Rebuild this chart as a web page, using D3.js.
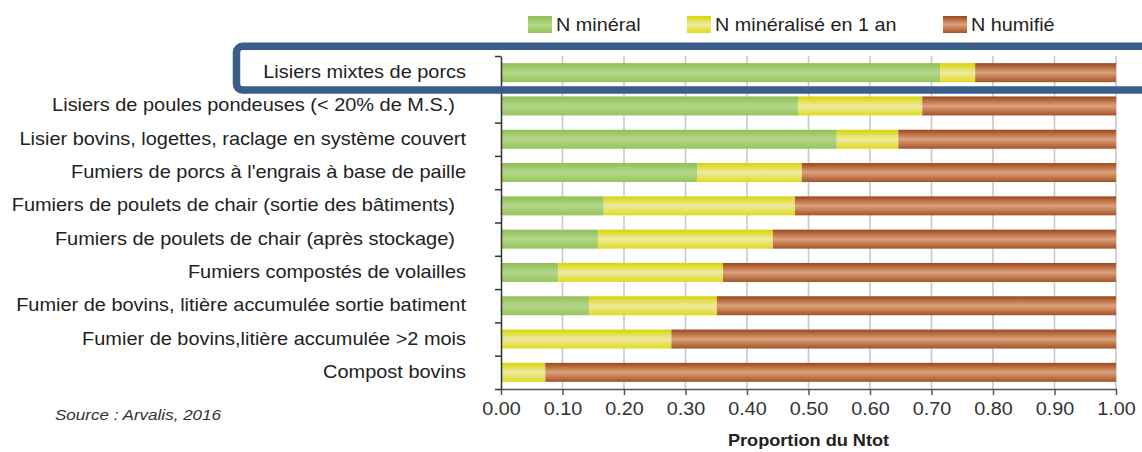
<!DOCTYPE html>
<html>
<head>
<meta charset="utf-8">
<script src="https://cdn.jsdelivr.net/npm/d3@7"></script>
<style>
  body { margin: 0; background: #fff; }
  svg { display: block; font-family: "Liberation Sans", Arial, sans-serif; }
  text { white-space: pre; }
</style>
</head>
<body>
<script>
const categories = [
    "Lisiers mixtes de porcs",
    "Lisiers de poules pondeuses (< 20% de M.S.)  ",
    "Lisier bovins, logettes, raclage en système couvert",
    "Fumiers de porcs à l'engrais à base de paille",
    "Fumiers de poulets de chair (sortie des bâtiments)  ",
    "Fumiers de poulets de chair (après stockage)  ",
    "Fumiers compostés de volailles",
    "Fumier de bovins, litière accumulée sortie batiment",
    "Fumier de bovins,litière accumulée >2 mois",
    "Compost bovins"
];
const nMineral = [0.714, 0.483, 0.546, 0.319, 0.167, 0.158, 0.093, 0.143, 0, 0];
const nMineralise = [0.057, 0.202, 0.100, 0.170, 0.311, 0.284, 0.268, 0.208, 0.277, 0.072];
const nHumifie = [0.229, 0.315, 0.354, 0.511, 0.522, 0.558, 0.639, 0.649, 0.723, 0.928];
const seriesNames = ["N minéral", "N minéralisé en 1 an", "N humifié"];
const xTicks = [0, 0.1, 0.2, 0.3, 0.4, 0.5, 0.6, 0.7, 0.8, 0.9, 1.0];

const W = 1142, H = 452;
const sx = 1.1; // the source picture is stretched a bit horizontally
const sxLabels = 1.14;

const keys = ["min", "mina", "hum"];
const table = categories.map((c, i) => ({
    cat: c, min: nMineral[i], mina: nMineralise[i], hum: nHumifie[i]
}));

const svg = d3.select("body").append("svg")
    .attr("width", W)
    .attr("height", H);

// gradients for the glossy bars
const grads = [
    { id: "gMin", stops: ["#8fbf55", "#b4d78a", "#97c45e"] },
    { id: "gMina", stops: ["#d8d400", "#eeeaa4", "#dfdb1c"] },
    { id: "gHum", stops: ["#9c4718", "#dca27c", "#a55226"] }
];
const defs = svg.append("defs");
grads.forEach(g => {
    const lg = defs.append("linearGradient")
        .attr("id", g.id)
        .attr("x1", 0).attr("y1", 0).attr("x2", 0).attr("y2", 1);
    lg.append("stop").attr("offset", "0%").attr("stop-color", g.stops[0]);
    lg.append("stop").attr("offset", "50%").attr("stop-color", g.stops[1]);
    lg.append("stop").attr("offset", "100%").attr("stop-color", g.stops[2]);
});
const fills = ["url(#gMin)", "url(#gMina)", "url(#gHum)"];

const x = d3.scaleLinear().domain([0, 1]).range([501, 1116]);
const y = d3.scaleBand()
    .domain(categories)
    .range([56, 389])
    .paddingInner(0.43)
    .paddingOuter(0.215);
const yEdges = d3.scaleLinear().domain([0, categories.length]).range([56, 389]);

function stretched(sel, px, py, k) {
    return sel.attr("x", 0).attr("y", 0)
        .attr("transform", `translate(${px},${py}) scale(${k || sx},1)`);
}

// gridlines
svg.append("g")
    .selectAll("line")
    .data(xTicks.slice(1))
    .join("line")
    .attr("x1", d => x(d)).attr("x2", d => x(d))
    .attr("y1", 56).attr("y2", 389)
    .attr("stroke", "#c9c9c9")
    .attr("stroke-width", 1.6);

// stacked bars
const stack = d3.stack().keys(keys)(table);
svg.append("g")
    .selectAll("g")
    .data(stack)
    .join("g")
    .attr("fill", (d, i) => fills[i])
    .selectAll("rect")
    .data(d => d.filter(p => p[1] - p[0] > 0))
    .join("rect")
    .attr("x", d => x(d[0]))
    .attr("width", d => x(d[1]) - x(d[0]))
    .attr("y", d => y(d.data.cat))
    .attr("height", y.bandwidth());

// x axis
const xAxis = svg.append("g")
    .attr("transform", "translate(0,389)")
    .call(d3.axisBottom(x).tickValues(xTicks).tickFormat(d3.format(".2f")).tickSize(6).tickSizeOuter(0));
xAxis.select(".domain").attr("stroke", "#555").attr("stroke-width", 1.5);
xAxis.selectAll(".tick line").attr("stroke", "#555").attr("stroke-width", 1.5);
xAxis.selectAll(".tick text").remove();
xAxis.selectAll(".tick").append("text")
    .call(s => stretched(s, 0, 26))
    .attr("text-anchor", "middle")
    .attr("fill", "#333")
    .style("font-size", "18px")
    .text(d => d3.format(".2f")(d));

// y axis (ticks between categories)
const yAxis = svg.append("g")
    .attr("transform", "translate(501,0)")
    .call(d3.axisLeft(yEdges).ticks(categories.length).tickFormat("").tickSize(6).tickSizeOuter(0));
yAxis.select(".domain").attr("stroke", "#333").attr("stroke-width", 1.5);
yAxis.selectAll(".tick line").attr("stroke", "#333").attr("stroke-width", 1.5);

// category labels
svg.append("g")
    .selectAll("text")
    .data(categories)
    .join("text")
    .each(function (d) {
        stretched(d3.select(this), 466, y(d) + y.bandwidth() / 2 + 5.5, sxLabels);
    })
    .attr("text-anchor", "end")
    .attr("fill", "#222")
    .style("font-size", "17.5px")
    .text(d => d);

// legend
const legX = [528, 687, 943];
const leg = svg.append("g")
    .selectAll("g")
    .data(seriesNames)
    .join("g");
leg.append("rect")
    .attr("x", (d, i) => legX[i])
    .attr("y", 16)
    .attr("width", 24)
    .attr("height", 17)
    .attr("fill", (d, i) => fills[i]);
leg.append("text")
    .each(function (d, i) {
        stretched(d3.select(this), legX[i] + 28, 31);
    })
    .attr("fill", "#222")
    .style("font-size", "18px")
    .text(d => d);

// axis title
svg.append("text")
    .call(s => stretched(s, (x(0) + x(1)) / 2, 446))
    .attr("text-anchor", "middle")
    .attr("fill", "#222")
    .style("font-size", "16.5px")
    .style("font-weight", "bold")
    .text("Proportion du Ntot");

// source
svg.append("text")
    .call(s => stretched(s, 55, 420))
    .attr("fill", "#333")
    .style("font-size", "15.5px")
    .style("font-style", "italic")
    .text("Source : Arvalis, 2016");

// highlight frame around the first row
svg.append("rect")
    .attr("x", 236.5)
    .attr("y", 46.3)
    .attr("width", 960)
    .attr("height", 43.7)
    .attr("rx", 6)
    .attr("fill", "none")
    .attr("stroke", "#3a5d8b")
    .attr("stroke-width", 7.5);
</script>
</body>
</html>
